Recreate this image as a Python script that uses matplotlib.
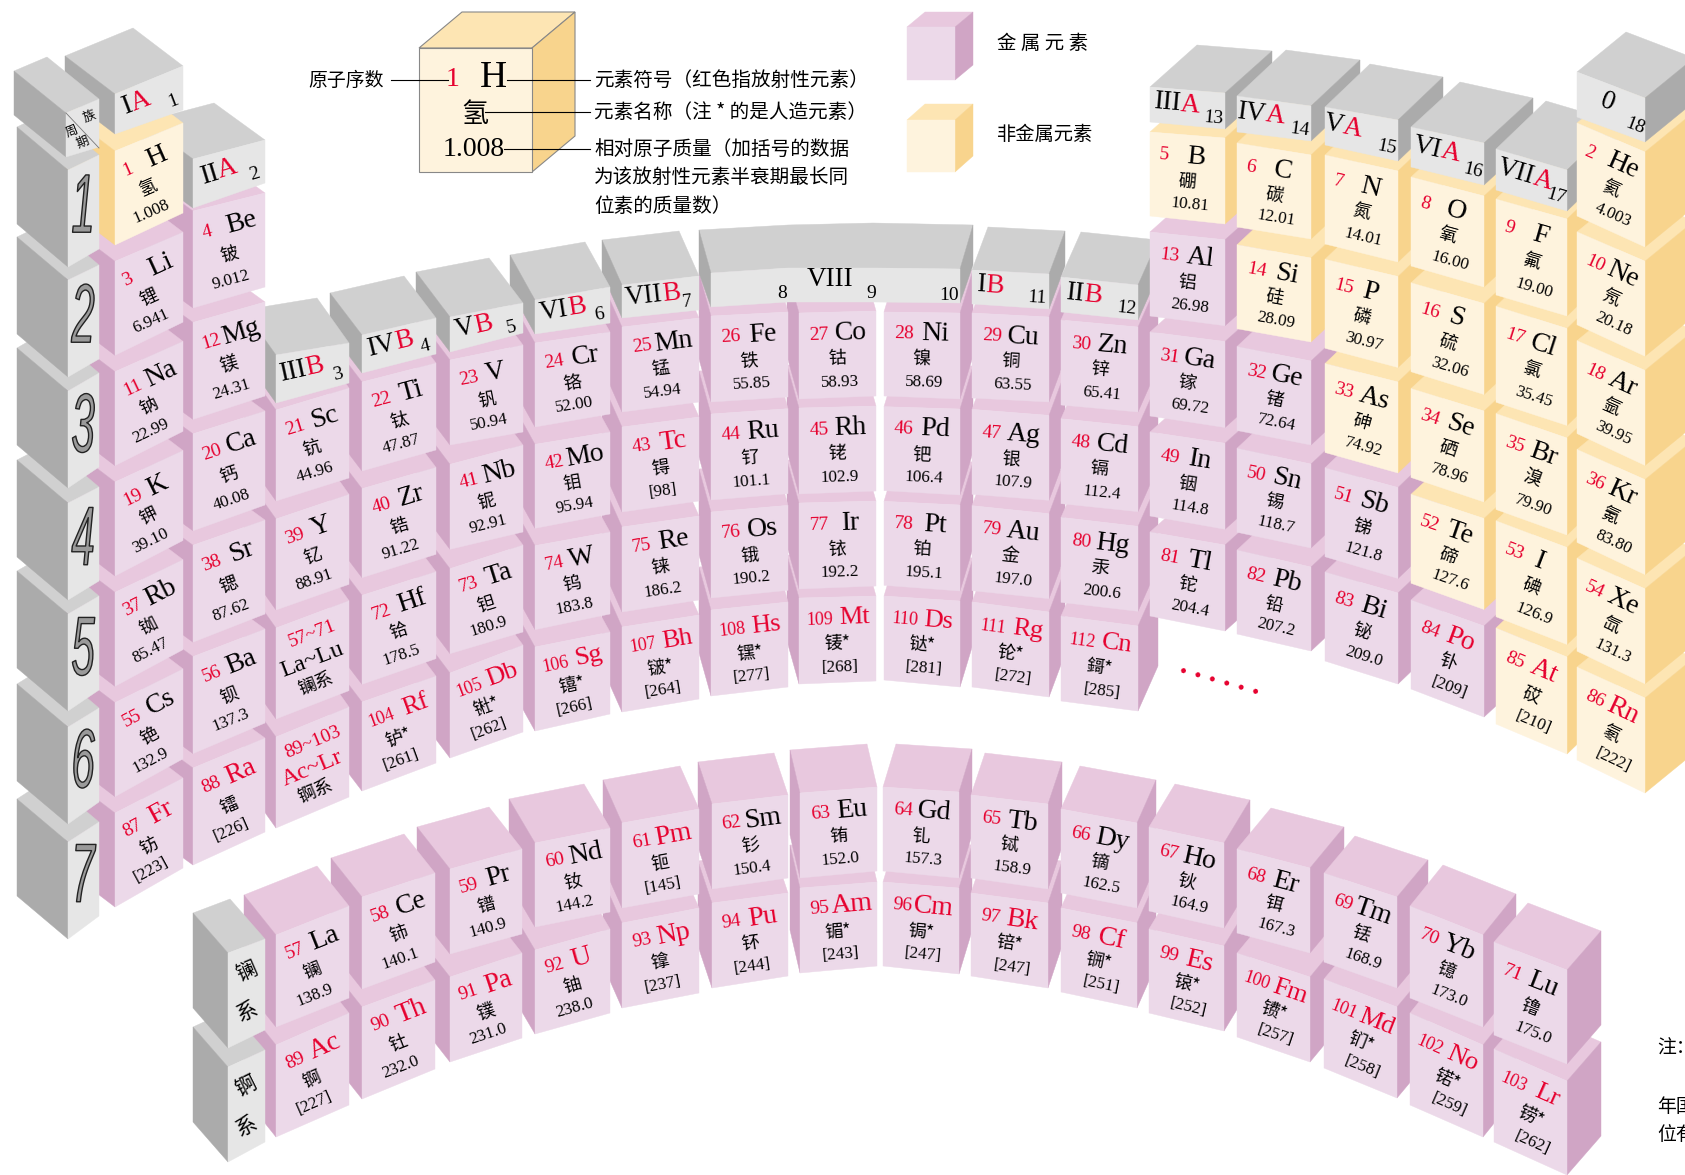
"""Periodic table drawn as curved blocks, in pixel coordinates of the 1685x1175 picture."""
import math
import matplotlib
matplotlib.use("Agg")
import matplotlib.pyplot as plt
from matplotlib.patches import Polygon
from matplotlib.transforms import Affine2D
import matplotlib.patheffects as pe

SYMBOLS = ["H", "He", "Li", "Be", "B", "C", "N", "O", "F", "Ne", "Na", "Mg", "Al", "Si", "P", "S", "Cl", "Ar",
           "K", "Ca", "Sc", "Ti", "V", "Cr", "Mn", "Fe", "Co", "Ni", "Cu", "Zn", "Ga", "Ge", "As", "Se", "Br", "Kr",
           "Rb", "Sr", "Y", "Zr", "Nb", "Mo", "Tc", "Ru", "Rh", "Pd", "Ag", "Cd", "In", "Sn", "Sb", "Te", "I", "Xe",
           "Cs", "Ba", "La", "Ce", "Pr", "Nd", "Pm", "Sm", "Eu", "Gd", "Tb", "Dy", "Ho", "Er", "Tm", "Yb", "Lu",
           "Hf", "Ta", "W", "Re", "Os", "Ir", "Pt", "Au", "Hg", "Tl", "Pb", "Bi", "Po", "At", "Rn",
           "Fr", "Ra", "Ac", "Th", "Pa", "U", "Np", "Pu", "Am", "Cm", "Bk", "Cf", "Es", "Fm", "Md", "No", "Lr",
           "Rf", "Db", "Sg", "Bh", "Hs", "Mt", "Ds", "Rg", "Cn"]
NAMES = ["氢", "氦", "锂", "铍", "硼", "碳", "氮", "氧", "氟", "氖", "钠", "镁", "铝", "硅", "磷", "硫", "氯", "氩",
         "钾", "钙", "钪", "钛", "钒", "铬", "锰", "铁", "钴", "镍", "铜", "锌", "镓", "锗", "砷", "硒", "溴", "氪",
         "铷", "锶", "钇", "锆", "铌", "钼", "锝", "钌", "铑", "钯", "银", "镉", "铟", "锡", "锑", "碲", "碘", "氙",
         "铯", "钡", "镧", "铈", "镨", "钕", "钷", "钐", "铕", "钆", "铽", "镝", "钬", "铒", "铥", "镱", "镥",
         "铪", "钽", "钨", "铼", "锇", "铱", "铂", "金", "汞", "铊", "铅", "铋", "钋", "砹", "氡",
         "钫", "镭", "锕", "钍", "镤", "铀", "镎", "钚", "镅*", "锔*", "锫*", "锎*", "锿*", "镄*", "钔*", "锘*", "铹*",
         "𬬻*", "𬭊*", "𬭳*", "𬭛*", "𬭶*", "鿏*", "𫟼*", "𬬭*", "鎶*"]
MASSES = ["1.008", "4.003", "6.941", "9.012", "10.81", "12.01", "14.01", "16.00", "19.00", "20.18",
          "22.99", "24.31", "26.98", "28.09", "30.97", "32.06", "35.45", "39.95",
          "39.10", "40.08", "44.96", "47.87", "50.94", "52.00", "54.94", "55.85", "58.93", "58.69", "63.55", "65.41",
          "69.72", "72.64", "74.92", "78.96", "79.90", "83.80",
          "85.47", "87.62", "88.91", "91.22", "92.91", "95.94", "[98]", "101.1", "102.9", "106.4", "107.9", "112.4",
          "114.8", "118.7", "121.8", "127.6", "126.9", "131.3",
          "132.9", "137.3", "138.9", "140.1", "140.9", "144.2", "[145]", "150.4", "152.0", "157.3", "158.9", "162.5",
          "164.9", "167.3", "168.9", "173.0", "175.0",
          "178.5", "180.9", "183.8", "186.2", "190.2", "192.2", "195.1", "197.0", "200.6", "204.4", "207.2", "209.0",
          "[209]", "[210]", "[222]",
          "[223]", "[226]", "[227]", "232.0", "231.0", "238.0", "[237]", "[244]", "[243]", "[247]", "[247]", "[251]",
          "[252]", "[257]", "[258]", "[259]", "[262]",
          "[261]", "[262]", "[266]", "[264]", "[277]", "[268]", "[281]", "[272]", "[285]"]
NONMETALS = [1, 2, 5, 6, 7, 8, 9, 10, 14, 15, 16, 17, 18, 33, 34, 35, 36, 52, 53, 54, 85, 86]
RADIOACTIVE = [43, 61] + list(range(84, 113))

GROUP_CELLS = [[1, 3, 11, 19, 37, 55, 87], [4, 12, 20, 38, 56, 88], [21, 39, "La", "Ac"], [22, 40, 72, 104],
               [23, 41, 73, 105], [24, 42, 74, 106], [25, 43, 75, 107], [26, 44, 76, 108], [27, 45, 77, 109],
               [28, 46, 78, 110], [29, 47, 79, 111], [30, 48, 80, 112], [5, 13, 31, 49, 81], [6, 14, 32, 50, 82],
               [7, 15, 33, 51, 83], [8, 16, 34, 52, 84], [9, 17, 35, 53, 85], [2, 10, 18, 36, 54, 86]]
GROUP_ROMAN = ["I", "II", "III", "IV", "V", "VI", "VII", "", "", "", "I", "II", "III", "IV", "V", "VI", "VII", "0"]
GROUP_LETTER = ["A", "A", "B", "B", "B", "B", "B", "", "", "", "B", "B", "A", "A", "A", "A", "A", ""]
LANTHANIDES = list(range(57, 72))
ACTINIDES = list(range(89, 104))
PERIODS = ["1", "2", "3", "4", "5", "6", "7"]

# xl, xr, depth dx, depth dy, first cell top L/R, last cell top L/R, height L/R
MAIN_GEOM = [(115, 183, -50, -38, 151, 123, 813, 778, 94, 90), (193, 265, -51, -37, 211, 193, 768, 738, 97, 94),
             (276, 349, -32, -45, 410, 388, 737, 707, 91, 90), (362, 436, -32, -42, 382, 363, 702, 676, 89, 87),
             (450, 523, -34, -45, 360, 345, 673, 645, 85, 87), (535, 610, -25, -45, 343, 332, 647, 632, 84, 82),
             (622, 699, -20, -45, 327, 318, 627, 615, 85, 84), (711, 788, -12, -43, 316, 312, 610, 602, 86, 85),
             (799, 876, -12, -43, 313, 311, 598, 596, 86, 85), (884, 960, 13, -43, 312, 313, 596, 601, 84, 86),
             (972, 1049, 16, -43, 313, 317, 602, 612, 85, 85), (1061, 1138, 20, -45, 320, 327, 616, 626, 85, 85),
             (1150, 1225, 47, -42, 132, 138, 532, 545, 84, 86), (1237, 1311, 49, -46, 143, 155, 550, 567, 84, 84),
             (1325, 1398, 45, -43, 155, 171, 572, 593, 89, 91), (1411, 1484, 49, -45, 177, 196, 600, 626, 89, 91),
             (1496, 1567, 50, -48, 199, 219, 628, 657, 96, 97), (1577, 1645, 49, -40, 123, 152, 667, 698, 93, 95)]
# group block front: upper L/R, lower L/R
BLOCK_GEOM = [(94, 66, 134, 110), (159, 140, 208, 183), (355, 343, 403, 383), (335, 318, 373, 354),
              (317, 303, 352, 333), (300, 287, 334, 323), (285, 276, 318, 310), None, None, None,
              (270, 274, 304, 309), (277, 285, 312, 320), (87, 93, 122, 129), (96, 106, 132, 141),
              (107, 120, 145, 161), (127, 143, 167, 185), (149, 170, 190, 211), (72, 98, 117, 142)]
LABEL_SPLIT = [.24, .35, .41, .45, .34, .44, .53, 0, 0, 0, .18, .30, .40, .38, .25, .41, .53, .45]
# xl, xr, depth dx, dy, row 1 top L/R, row 2 top L/R, height L/R
F_GEOM = [(276, 349, -32, -40, 935, 906, 1045, 1013, 92, 92), (362, 435, -31, -39, 897, 873, 1007, 980, 92, 89),
          (450, 522, -33, -42, 869, 849, 977, 953, 85, 85), (535, 610, -26, -44, 843, 828, 950, 929, 84, 84),
          (622, 699, -19, -43, 823, 809, 923, 908, 85, 85), (712, 788, -14, -42, 804, 795, 903, 893, 85, 83),
          (800, 877, -10, -43, 793, 787, 888, 882, 85, 84), (883, 959, 13, -43, 787, 792, 882, 888, 84, 86),
          (971, 1048, 14, -42, 795, 804, 893, 903, 83, 85), (1061, 1137, 19, -43, 809, 823, 908, 923, 84, 85),
          (1149, 1224, 26, -43, 827, 843, 929, 946, 84, 85), (1237, 1310, 34, -41, 849, 868, 953, 977, 84, 85),
          (1324, 1397, 31, -37, 873, 897, 979, 1007, 89, 91), (1410, 1483, 33, -41, 906, 935, 1013, 1045, 92, 92),
          (1494, 1567, 34, -39, 942, 970, 1049, 1081, 93, 94)]

PINK = ("#ECD9E9", "#E8C8DE", "#D0A5C5")
GOLD = ("#FEF3DD", "#FDE5B3", "#F8D48D")
GRAY = ("#E6E6E6", "#D0D0D0", "#ABABAB")
RED = "#E6002E"
SERIF = "Liberation Serif"
CJK = ["Noto Sans CJK SC", "DejaVu Sans"]

fig = plt.figure(figsize=(16.85, 11.75), dpi=100)
ax = fig.add_axes([0, 0, 1, 1])
ax.set_xlim(0, 1685)
ax.set_ylim(1175, 0)
ax.axis("off")


class Condensed(pe.AbstractPathEffect):
    """Squeeze a text sideways about its left end, with a dark outline (the tall period numbers)."""

    def __init__(self, sx):
        super().__init__()
        self.sx = sx

    def draw_path(self, renderer, gc, tpath, affine, rgbFace=None):
        x0 = affine.get_matrix()[0, 2]
        squeezed = affine + Affine2D().translate(-x0, 0).scale(self.sx, 1).translate(x0, 0)
        gc0 = renderer.new_gc()
        gc0.copy_properties(gc)
        gc0.set_foreground("#222222")
        gc0.set_linewidth(1.0)
        renderer.draw_path(gc0, tpath, squeezed, rgbFace)
        gc0.restore()


def poly(pts, color, **kw):
    ax.add_patch(Polygon(pts, closed=True, facecolor=color, edgecolor=kw.get("edge", color),
                         lw=kw.get("lw", 0.3)))


def box(f, dx, dy, pal, **kw):
    """f = xl, xr, top L, top R, bottom L, bottom R of the front face."""
    xl, xr, tl, tr, bl, br = f
    poly([(xl, tl), (xr, tr), (xr + dx, tr + dy), (xl + dx, tl + dy)], pal[1], **kw)
    if dx < 0:
        poly([(xl, tl), (xl + dx, tl + dy), (xl + dx, bl + dy), (xl, bl)], pal[2], **kw)
    else:
        poly([(xr, tr), (xr + dx, tr + dy), (xr + dx, br + dy), (xr, br)], pal[2], **kw)
    poly([(xl, tl), (xr, tr), (xr, br), (xl, bl)], pal[0], **kw)


def at(f, u, v):
    xl, xr, tl, tr, bl, br = f
    top = tl + (tr - tl) * u
    bot = bl + (br - bl) * u
    return xl + (xr - xl) * u, top + (bot - top) * v


def tilt(f):
    xl, xr, tl, tr, bl, br = f
    return math.degrees(math.atan2((tl - tr + bl - br) / 2, xr - xl))


def put(f, u, v, s, size, color="black", family=SERIF, ha="center"):
    x, y = at(f, u, v)
    ax.text(x, y, s, fontsize=size, color=color, family=family, ha=ha, va="center",
            rotation=tilt(f), rotation_mode="anchor")


def element_cell(f, z):
    num = str(z)
    sym = SYMBOLS[z - 1]
    u_num = {1: .19, 2: .26, 3: .27}[len(num)]
    u_sym = .62 if len(sym) == 1 else (.72 if len(num) == 3 else .67)
    put(f, u_num, .26, num, 14 if len(num) < 3 else 13, RED)
    put(f, u_sym, .25, sym, 20 if len(num) < 3 else 19, RED if z in RADIOACTIVE else "black")
    put(f, .5, .55, NAMES[z - 1], 13, family=CJK)
    put(f, .53, .82, MASSES[z - 1], 12.3)


def series_cell(f, span, sym, name, sym_color):
    put(f, .50, .22, span, 14, RED)
    put(f, .50, .51, sym, 17.5, sym_color)
    put(f, .55, .78, name, 13, family=CJK)


def draw_group(i):
    xl, xr, dx, dy, l0, r0, l1, r1, hl, hr = MAIN_GEOM[i]
    cells = GROUP_CELLS[i]
    n = len(cells) - 1
    for k in range(n, -1, -1):
        tl = l0 + (l1 - l0) * k / n
        tr = r0 + (r1 - r0) * k / n
        f = (xl, xr, tl, tr, tl + hl, tr + hr)
        c = cells[k]
        box(f, dx, dy, GOLD if c in NONMETALS else PINK)
        if c == "La":
            series_cell(f, "57~71", "La~Lu", "镧系", "black")
        elif c == "Ac":
            series_cell(f, "89~103", "Ac~Lr", "锕系", RED)
        else:
            element_cell(f, c)


def draw_block(i):
    xl, xr, dx, dy = MAIN_GEOM[i][:4]
    ul, ur, ll, lr = BLOCK_GEOM[i]
    f = (xl, xr, ul, ur, ll, lr)
    box(f, dx, dy, GRAY)
    s = LABEL_SPLIT[i]
    if GROUP_LETTER[i]:
        put(f, s, .42, GROUP_ROMAN[i], 19.5, ha="right")
        put(f, s, .42, GROUP_LETTER[i], 19.5, RED, ha="left")
    else:
        put(f, s, .42, GROUP_ROMAN[i], 19.5)
    put(f, .85, .72, str(i + 1), 14)


def draw_viii_block():
    # groups 8-10 share one long block
    poly([(699, 230), (788, 225), (873, 223), (973, 225), (960, 269), (876, 268), (788, 268), (711, 273)], GRAY[1])
    poly([(699, 230), (711, 273), (711, 307), (699, 273)], GRAY[2])
    poly([(960, 269), (973, 225), (973, 265), (960, 303)], GRAY[2])
    poly([(711, 273), (788, 268), (876, 268), (960, 269), (960, 303), (876, 302), (788, 302), (711, 307)], GRAY[0])
    ax.text(830, 280, "VIII", fontsize=19.5, family=SERIF, ha="center", va="center")
    for x, y, s in [(782, 293, "8"), (871, 293, "9"), (949, 295, "10")]:
        ax.text(x, y, s, fontsize=14, family=SERIF, ha="center", va="center")


# centre first, then outwards, so each nearer column hides the depth of the one behind it
for i in [8, 9, 7]:
    draw_group(i)
draw_viii_block()
for i in range(10, 18):
    draw_group(i)
    draw_block(i)
for i in range(6, -1, -1):
    draw_group(i)
    draw_block(i)

# period blocks
period_top_l = [170, 280, 391, 503, 614, 727, 842]
period_top_r = [155, 265, 373, 487, 596, 708, 822]
for k in range(6, -1, -1):
    f = (68, 99, period_top_l[k], period_top_r[k], period_top_l[k] + 97, period_top_r[k] + 94)
    box(f, -51, -43, GRAY)
    x, y = at(f, .5, .50)
    ax.text(x - 12, y, PERIODS[k], fontsize=60, family="Liberation Sans", style="italic", color="#9A9A9A",
            ha="left", va="center", path_effects=[Condensed(0.5)])

# corner block
corner = (66, 99, 113, 99, 157, 147)
box(corner, -52, -42, GRAY)
ax.plot([66, 99], [113, 148], color="#777777", lw=0.6)
for x, y, s in [(90, 117, "族"), (72, 131, "周"), (83, 142, "期")]:
    ax.text(x, y, s, fontsize=9, family=CJK, ha="center", va="center", rotation=22, rotation_mode="anchor")

# lanthanide and actinide rows
f_order = list(range(6, -1, -1)) + list(range(7, 15))
for j in f_order:
    xl, xr, dx, dy, t1l, t1r, t2l, t2r, hl, hr = F_GEOM[j]
    lower = (xl, xr, t2l, t2r, t2l + hl, t2r + hr)
    upper = (xl, xr, t1l, t1r, t1l + hl, t1r + hr)
    box(lower, dx, dy, PINK)
    element_cell(lower, ACTINIDES[j])
    box(upper, dx, dy, PINK)
    element_cell(upper, LANTHANIDES[j])

for f, name, v0, v1 in [((228, 265, 1067, 1050, 1162, 1142), "锕系", .30, .72),
                        ((228, 265, 953, 939, 1048, 1030), "镧系", .27, .70)]:
    box(f, -35, -40, GRAY)
    put(f, .5, v0, name[0], 15, family=CJK)
    put(f, .5, v1, name[1], 15, family=CJK)

# ...... after period 7
ax.text(1221, 676, ". . . . . .", fontsize=21.5, color=RED, family=SERIF, weight="bold", ha="center", va="center",
        rotation=-16, rotation_mode="anchor")

# key cube
key = (419, 532, 48, 48, 172, 172)
box(key, 43, -36, GOLD, edge="#888888", lw=0.8)
for x0, x1, y in [(391, 448, 80), (507, 590, 80), (485, 590, 112), (504, 590, 149)]:
    ax.plot([x0, x1], [y, y], color="black", lw=0.8)
ax.text(453, 80, "1", fontsize=20, color=RED, family=SERIF, ha="center", va="center")
ax.text(493, 78, "H", fontsize=27, family=SERIF, ha="center", va="center")
ax.text(475, 114, "氢", fontsize=19.5, family=CJK, ha="center", va="center")
ax.text(474, 149, "1.008", fontsize=20, family=SERIF, ha="center", va="center")
ax.text(308, 80, "原子序数", fontsize=13.6, family=CJK, ha="left", va="center")
key_notes = [(80, "元素符号（红色指放射性元素）"), (112, "元素名称（注 * 的是人造元素）"),
             (149, "相对原子质量（加括号的数据"), (177, "为该放射性元素半衰期最长同"), (206, "位素的质量数）")]
for y, s in key_notes:
    ax.text(594, y, s, fontsize=14.1, family=CJK, ha="left", va="center")

# metal / non-metal legend
box((907, 955, 27, 27, 80, 80), 18, -15, PINK)
box((907, 955, 120, 120, 172, 172), 18, -16, GOLD)
ax.text(997, 43, "金 属 元 素", fontsize=14, family=CJK, ha="left", va="center")
ax.text(997, 134, "非金属元素", fontsize=13.9, family=CJK, ha="left", va="center")

# note cut off by the right edge of the page
for y, s in [(1048, "注："), (1106, "年国"), (1134, "位有")]:
    ax.text(1657, y, s, fontsize=13.6, family=CJK, ha="left", va="center")

fig.savefig("out.png", dpi=100)
